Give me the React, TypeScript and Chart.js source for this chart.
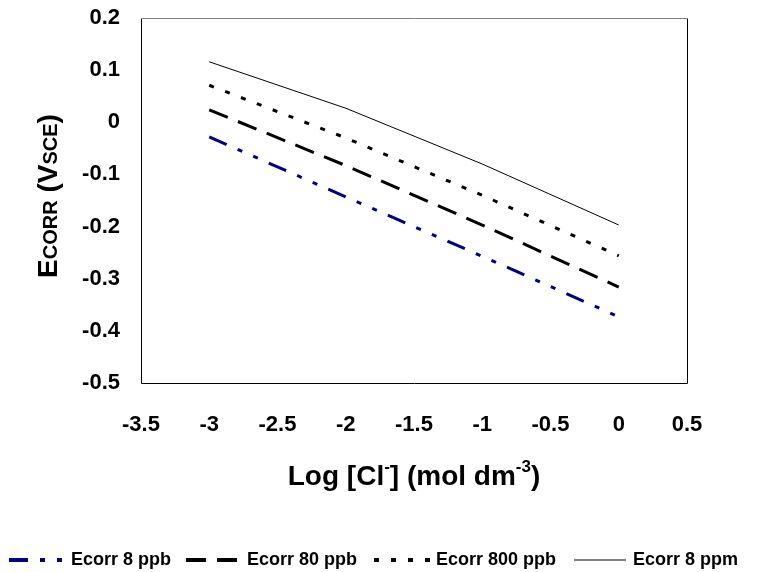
import React, { useEffect, useRef } from "react";
import { Chart, registerables } from "chart.js";

Chart.register(...registerables);

const logCl = [-3, -2, -1, 0];
const ecorr8ppb = [-0.028, -0.143, -0.257, -0.373];
const ecorr80ppb = [0.024, -0.083, -0.197, -0.316];
const ecorr800ppb = [0.071, -0.03, -0.14, -0.256];
const ecorr8ppm = [0.116, 0.027, -0.08, -0.197];
const seriesLabels = ["Ecorr 8 ppb", "Ecorr 80 ppb", "Ecorr 800 ppb", "Ecorr 8 ppm"];

const FONT = "'Liberation Sans', Arial, sans-serif";

type Part = { t: string; size: number; dy?: number };

function richWidth(ctx: CanvasRenderingContext2D, parts: Part[]) {
  let w = 0;
  for (const p of parts) {
    ctx.font = `bold ${p.size}px ${FONT}`;
    w += ctx.measureText(p.t).width;
  }
  return w;
}

function drawRich(ctx: CanvasRenderingContext2D, parts: Part[], x: number, y: number) {
  let cx = x;
  for (const p of parts) {
    ctx.font = `bold ${p.size}px ${FONT}`;
    ctx.fillText(p.t, cx, y + (p.dy || 0));
    cx += ctx.measureText(p.t).width;
  }
}

const decorPlugin = {
  id: "decor",
  afterDraw(chart: any) {
    const ctx: CanvasRenderingContext2D = chart.ctx;
    const a = chart.chartArea;
    ctx.save();
    // frame
    ctx.lineWidth = 1;
    ctx.strokeStyle = "#000";
    ctx.beginPath();
    ctx.moveTo(a.left + 0.5, a.top);
    ctx.lineTo(a.left + 0.5, a.bottom + 0.5);
    ctx.lineTo(a.right + 0.5, a.bottom + 0.5);
    ctx.lineTo(a.right + 0.5, a.top);
    ctx.stroke();
    ctx.strokeStyle = "#808080";
    ctx.beginPath();
    ctx.moveTo(a.left, a.top + 0.5);
    ctx.lineTo(a.right + 1, a.top + 0.5);
    ctx.stroke();

    ctx.fillStyle = "#000";
    ctx.textBaseline = "alphabetic";
    ctx.textAlign = "left";

    // x title
    const xParts: Part[] = [
      { t: "Log [Cl", size: 28 },
      { t: "-", size: 17, dy: -13 },
      { t: "] (mol dm", size: 28 },
      { t: "-3", size: 17, dy: -13 },
      { t: ")", size: 28 },
    ];
    const xw = richWidth(ctx, xParts);
    drawRich(ctx, xParts, (a.left + a.right) / 2 - xw / 2, 485);

    // y title
    const yParts: Part[] = [
      { t: "E", size: 28 },
      { t: "CORR", size: 20 },
      { t: " (V", size: 28 },
      { t: "SCE", size: 20 },
      { t: ")", size: 28 },
    ];
    const yw = richWidth(ctx, yParts);
    ctx.save();
    ctx.translate(57, 196);
    ctx.rotate(-Math.PI / 2);
    drawRich(ctx, yParts, -yw / 2, 0);
    ctx.restore();

    // legend
    const ds = chart.data.datasets;
    const ly = 560;
    const items = [
      { x1: 9, x2: 64, tx: 71 },
      { x1: 186, x2: 238, tx: 247 },
      { x1: 374, x2: 431, tx: 436 },
      { x1: 574, x2: 626, tx: 633 },
    ];
    items.forEach((it, i) => {
      const d = ds[i];
      ctx.save();
      ctx.strokeStyle = d.borderColor;
      ctx.lineWidth = d.borderWidth === 1 ? 1 : 4;
      ctx.setLineDash(d.borderDash || []);
      ctx.beginPath();
      ctx.moveTo(it.x1, ly);
      ctx.lineTo(it.x2, ly);
      ctx.stroke();
      ctx.restore();
      ctx.font = `bold 18px ${FONT}`;
      ctx.textBaseline = "middle";
      ctx.fillStyle = "#000";
      ctx.fillText(d.label, it.tx, ly);
    });
    ctx.restore();
  },
};

export default function App() {
  const ref = useRef<HTMLCanvasElement>(null);
  useEffect(() => {
    if (!ref.current) return;
    const mk = (x: number[], y: number[]) => x.map((v, i) => ({ x: v, y: y[i] }));
    const chart = new Chart(ref.current, {
      type: "line",
      data: {
        datasets: [
          {
            label: seriesLabels[0],
            data: mk(logCl, ecorr8ppb),
            borderColor: "#000080",
            borderWidth: 3,
            borderDash: [19, 12, 5, 12, 5, 12],
            pointRadius: 0,
            fill: false,
          },
          {
            label: seriesLabels[1],
            data: mk(logCl, ecorr80ppb),
            borderColor: "#000000",
            borderWidth: 3,
            borderDash: [20, 11],
            pointRadius: 0,
            fill: false,
          },
          {
            label: seriesLabels[2],
            data: mk(logCl, ecorr800ppb),
            borderColor: "#000000",
            borderWidth: 3,
            borderDash: [5, 12],
            pointRadius: 0,
            fill: false,
          },
          {
            label: seriesLabels[3],
            data: mk(logCl, ecorr8ppm),
            borderColor: "#000000",
            borderWidth: 1,
            pointRadius: 0,
            fill: false,
          },
        ],
      },
      options: {
        animation: false,
        responsive: false,
        maintainAspectRatio: false,
        layout: { padding: { left: 0, top: 18, right: 73, bottom: 129 } },
        plugins: { legend: { display: false }, tooltip: { enabled: false }, title: { display: false } },
        scales: {
          x: {
            type: "linear",
            min: -3.5,
            max: 0.5,
            grid: { display: false, drawTicks: false },
            border: { display: false },
            afterFit: (s: any) => {
              s.height = 60;
              s.paddingLeft = 0;
              s.paddingRight = 0;
            },
            ticks: {
              stepSize: 0.5,
              padding: 29,
              color: "#000",
              font: { family: FONT, size: 22, weight: "bold" },
              maxRotation: 0,
              autoSkip: false,
              callback: (v: any) => String(Math.round(Number(v) * 10) / 10),
            },
          },
          y: {
            type: "linear",
            min: -0.5,
            max: 0.2,
            grid: { display: false, drawTicks: false },
            border: { display: false },
            afterFit: (s: any) => {
              s.width = 141;
              s.paddingTop = 0;
              s.paddingBottom = 0;
            },
            ticks: {
              stepSize: 0.1,
              padding: 21,
              color: "#000",
              font: { family: FONT, size: 22, weight: "bold" },
              callback: (v: any) => String(Math.round(Number(v) * 10) / 10),
            },
          },
        },
      },
      plugins: [decorPlugin],
    } as any);
    return () => chart.destroy();
  }, []);
  return (
    <div style={{ position: "fixed", left: 0, top: 0, width: 760, height: 572, background: "#fff" }}>
      <canvas ref={ref} width={760} height={572} style={{ width: 760, height: 572 }} />
    </div>
  );
}
